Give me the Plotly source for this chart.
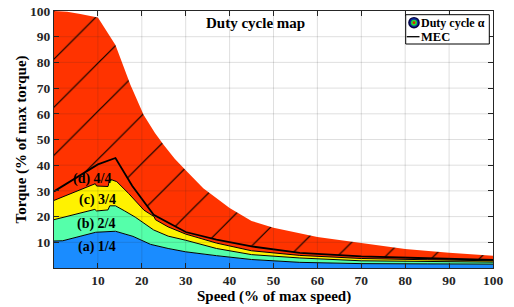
import plotly.graph_objects as go

# ---------------- data ----------------
speed_env = [0, 3, 6, 10, 14, 17.4, 20.4, 23, 25, 27.5, 30, 34, 40, 45, 50, 60, 70, 80, 90, 100]
torque_env = [100, 99.7, 98.8, 97.5, 86.8, 71.3, 59.6, 52.5, 47.9, 42.5, 38, 31, 23.3, 18.3, 15.7, 12.1, 9.7, 7.4, 5.9, 4.8]

speed_d = [0, 10, 14, 17.8, 22.7, 26.5, 30, 37, 45, 56, 70, 85, 100]
torque_d = [29.8, 40.3, 42.8, 32, 20.7, 17.3, 14, 11, 8.4, 5.9, 4.5, 3.8, 3.2]

speed_c = [0, 9.4, 9.7, 12.3, 12.7, 14.3, 17, 20.5, 22.8, 23.1, 26, 30, 37, 45, 56, 70, 85, 100]
torque_c = [26.3, 32.8, 31.9, 31.7, 34.6, 33.6, 29, 22.5, 20, 18.8, 16, 13.2, 9.7, 6.7, 4.9, 3.7, 3.2, 2.8]

speed_b = [0, 9.3, 9.7, 12.3, 12.7, 14, 16, 18.5, 22.7, 26, 30, 37, 45, 56, 70, 85, 100]
torque_b = [18.8, 22.8, 22.2, 22.6, 24.2, 24.2, 22.3, 19.8, 14.8, 12.4, 10.8, 7.6, 5.2, 3.9, 2.8, 2.5, 2.3]

speed_a = [0, 2, 9.5, 14, 18, 22, 26, 30, 37, 45, 56, 70, 85, 100]
torque_a = [10.5, 10.6, 13.9, 14.3, 12.3, 9.2, 7.6, 6.3, 4.8, 3.3, 2.2, 1.7, 1.6, 1.5]

tick_vals = [10, 20, 30, 40, 50, 60, 70, 80, 90, 100]
tick_text = [str(v) for v in tick_vals]

region_labels = ["(a) 1/4", "(b) 2/4", "(c) 3/4", "(d) 4/4"]
region_label_x = [9.7, 9.6, 10.0, 8.8]
region_label_y = [8.0, 17.3, 26.3, 34.6]

title_text = "Duty cycle map"
legend_texts = ["Duty cycle α", "MEC"]
x_title = "Speed (% of max speed)"
y_title = "Torque (% of max torque)"

# ---------------- styles ----------------
BLUE = "#1a8cff"
TEAL = "#55ffaa"
YELLOW = "#fff200"
RED = "#ff3300"
SERIF = "Liberation Serif"
AX = "#262626"

W, H = 514, 307
ML, MR, MT, MB = 54, 21, 11, 39
PW, PH = W - ML - MR, H - MT - MB

fig = go.Figure()

fig.add_trace(go.Scatter(x=speed_a, y=torque_a, mode="lines", fill="tozeroy",
                         fillcolor=BLUE, line=dict(color="black", width=1), showlegend=False))
fig.add_trace(go.Scatter(x=speed_b, y=torque_b, mode="lines", fill="tonexty",
                         fillcolor=TEAL, line=dict(color="black", width=1), showlegend=False))
fig.add_trace(go.Scatter(x=speed_c, y=torque_c, mode="lines", fill="tonexty",
                         fillcolor=YELLOW, line=dict(color="black", width=1), showlegend=False))
fig.add_trace(go.Scatter(x=speed_d, y=torque_d, mode="lines", fill="tonexty",
                         fillcolor=RED, line=dict(color="black", width=1.8), showlegend=False))
fig.add_trace(go.Scatter(x=speed_env, y=torque_env, mode="lines", fill="tonexty",
                         fillcolor=RED, line=dict(color=RED, width=0),
                         fillpattern=dict(shape="/", size=34, solidity=0.035,
                                          fgcolor="black", bgcolor=RED, fgopacity=1),
                         showlegend=False))

shapes = []
for v in tick_vals[:-1]:
    shapes.append(dict(type="line", xref="x", yref="y", x0=v, x1=v, y0=0, y1=100,
                       line=dict(color="rgba(38,38,38,0.15)", width=1), layer="above"))
    shapes.append(dict(type="line", xref="x", yref="y", x0=0, x1=100, y0=v, y1=v,
                       line=dict(color="rgba(38,38,38,0.15)", width=1), layer="above"))


def px2x(X):
    return (X - ML) / PW * 100


def px2y(Y):
    return (MT + PH - Y) / PH * 100


def px2px(X):
    return (X - ML) / PW


def px2py(Y):
    return (MT + PH - Y) / PH


# manual legend
shapes.append(dict(type="rect", xref="x", yref="y", x0=px2x(405.7), x1=px2x(489.3),
                   y0=px2y(44), y1=px2y(14.7), fillcolor="white",
                   line=dict(color="black", width=1), layer="above"))
for r, col in [(5.8, "#000040"), (4.4, "#0a2aa0"), (3.0, "#22dd33"), (1.4, "#e02000")]:
    shapes.append(dict(type="circle", xref="x", yref="y",
                       x0=px2x(414 - r), x1=px2x(414 + r),
                       y0=px2y(22.7 + r), y1=px2y(22.7 - r), fillcolor=col,
                       line=dict(width=0), layer="above"))
shapes.append(dict(type="line", xref="x", yref="y", x0=px2x(406.7), x1=px2x(419.5),
                   y0=px2y(36.7), y1=px2y(36.7), line=dict(color="black", width=1.3),
                   layer="above"))

annotations = []
for t, xv, yv in zip(region_labels, region_label_x, region_label_y):
    annotations.append(dict(x=xv, y=yv, xref="x", yref="y", text=t, showarrow=False,
                            font=dict(family=SERIF, size=14, color="black", weight="bold")))
annotations.append(dict(x=px2x(255.4), y=px2y(23.3), xref="x", yref="y", text=title_text,
                        showarrow=False, font=dict(family=SERIF, size=15, color="black", weight="bold")))
annotations.append(dict(x=px2x(419.5), y=px2y(23), xref="x", yref="y", text=legend_texts[0],
                        xanchor="left", showarrow=False, borderpad=0,
                        font=dict(family=SERIF, size=12, color="black", weight="bold")))
annotations.append(dict(x=px2x(419.5), y=px2y(37), xref="x", yref="y", text=legend_texts[1],
                        xanchor="left", showarrow=False, borderpad=0,
                        font=dict(family=SERIF, size=12.5, color="black", weight="bold")))
annotations.append(dict(x=px2px(273.5), y=px2py(296), xref="paper", yref="paper", text=x_title,
                        showarrow=False, xanchor="center", yanchor="middle",
                        font=dict(family=SERIF, size=15, color="black", weight="bold")))
annotations.append(dict(x=px2px(21), y=px2py(139.5), xref="paper", yref="paper", text=y_title,
                        showarrow=False, textangle=-90, xanchor="center", yanchor="middle",
                        font=dict(family=SERIF, size=15, color="black", weight="bold")))

axis_common = dict(range=[0, 100], tickvals=tick_vals, ticktext=tick_text,
                   ticks="inside", ticklen=5, tickcolor=AX, tickwidth=1,
                   showline=True, linecolor=AX, linewidth=1, mirror="ticks",
                   showgrid=False, zeroline=False, automargin=False,
                   tickfont=dict(family=SERIF, size=13.5, color="#262626", weight="bold"))

fig.update_layout(
    width=W, height=H,
    margin=dict(l=ML, r=MR, t=MT, b=MB, pad=0, autoexpand=False),
    paper_bgcolor="white", plot_bgcolor="white",
    xaxis=axis_common, yaxis=axis_common,
    shapes=shapes, annotations=annotations, showlegend=False,
)

fig.write_html("out.html", config={"displayModeBar": False},
               post_script="document.body.style.margin='0';")
